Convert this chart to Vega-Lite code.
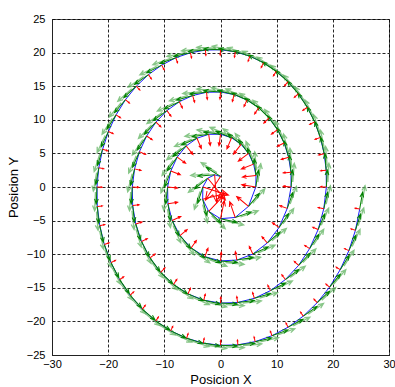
{
  "$schema": "https://vega.github.io/schema/vega-lite/v6.json",
  "width": 337,
  "height": 336,
  "autosize": {"type": "none"},
  "padding": {"left": 52, "top": 19, "right": 6, "bottom": 32},
  "background": "white",
  "config": {
    "view": {"stroke": "#555555", "strokeWidth": 1},
    "font": "Liberation Sans",
    "axis": {
      "labelFont": "Liberation Sans",
      "labelFontSize": 11,
      "labelColor": "#000000",
      "titleFont": "Liberation Sans",
      "titleFontSize": 13,
      "titleFontWeight": "normal",
      "titleColor": "#000000",
      "grid": true,
      "gridColor": "#000000",
      "gridDash": [3, 2],
      "gridOpacity": 0.85,
      "gridWidth": 1,
      "ticks": false,
      "domainColor": "#222222",
      "labelFlush": false,
      "labelOverlap": false
    }
  },
  "data": {
    "values": [
      {"a": 90, "x": 0, "y": 1.571, "phi": 147.5, "acc": 5},
      {"a": 120, "x": -1.047, "y": 1.814, "phi": 184.5, "acc": 5},
      {"a": 150, "x": -2.267, "y": 1.309, "phi": 219.1, "acc": 5},
      {"a": 180, "x": -3.142, "y": 0, "phi": 252.3, "acc": 4.82},
      {"a": 210, "x": -3.174, "y": -1.833, "phi": 284.7, "acc": 4.17},
      {"a": 240, "x": -2.094, "y": -3.628, "phi": 316.6, "acc": 3.68},
      {"a": 270, "x": 0, "y": -4.712, "phi": 348.0, "acc": 3.3},
      {"a": 300, "x": 2.618, "y": -4.534, "phi": 19.2, "acc": 3.0},
      {"a": 330, "x": 4.988, "y": -2.88, "phi": 50.2, "acc": 2.75},
      {"a": 360, "x": 6.283, "y": 0, "phi": 81.0, "acc": 2.55},
      {"a": 375, "x": 6.322, "y": 1.694, "phi": 96.3, "acc": 2.45},
      {"a": 390, "x": 5.895, "y": 3.403, "phi": 111.6, "acc": 2.37},
      {"a": 405, "x": 4.998, "y": 4.998, "phi": 126.9, "acc": 2.29},
      {"a": 420, "x": 3.665, "y": 6.348, "phi": 142.2, "acc": 2.22},
      {"a": 435, "x": 1.965, "y": 7.333, "phi": 157.5, "acc": 2.15},
      {"a": 450, "x": 0, "y": 7.854, "phi": 172.7, "acc": 2.09},
      {"a": 465, "x": -2.1, "y": 7.839, "phi": 188.0, "acc": 2.03},
      {"a": 480, "x": -4.189, "y": 7.255, "phi": 203.2, "acc": 1.98},
      {"a": 495, "x": -6.109, "y": 6.109, "phi": 218.4, "acc": 1.93},
      {"a": 510, "x": -7.708, "y": 4.451, "phi": 233.6, "acc": 1.88},
      {"a": 525, "x": -8.851, "y": 2.371, "phi": 248.8, "acc": 1.83},
      {"a": 540, "x": -9.425, "y": 0, "phi": 263.9, "acc": 1.79},
      {"a": 555, "x": -9.356, "y": -2.507, "phi": 279.1, "acc": 1.75},
      {"a": 570, "x": -8.615, "y": -4.974, "phi": 294.3, "acc": 1.71},
      {"a": 585, "x": -7.22, "y": -7.22, "phi": 309.4, "acc": 1.67},
      {"a": 600, "x": -5.236, "y": -9.069, "phi": 324.5, "acc": 1.64},
      {"a": 615, "x": -2.778, "y": -10.368, "phi": 339.7, "acc": 1.6},
      {"a": 630, "x": 0, "y": -10.996, "phi": 354.8, "acc": 1.57},
      {"a": 645, "x": 2.913, "y": -10.873, "phi": 9.9, "acc": 1.54},
      {"a": 660, "x": 5.76, "y": -9.976, "phi": 25.0, "acc": 1.51},
      {"a": 675, "x": 8.33, "y": -8.33, "phi": 40.2, "acc": 1.48},
      {"a": 690, "x": 10.429, "y": -6.021, "phi": 55.3, "acc": 1.46},
      {"a": 705, "x": 11.885, "y": -3.184, "phi": 70.4, "acc": 1.43},
      {"a": 720, "x": 12.566, "y": 0, "phi": 85.4, "acc": 1.41},
      {"a": 730, "x": 12.547, "y": 2.212, "phi": 95.5, "acc": 1.39},
      {"a": 740, "x": 12.137, "y": 4.417, "phi": 105.6, "acc": 1.38},
      {"a": 750, "x": 11.336, "y": 6.545, "phi": 115.6, "acc": 1.36},
      {"a": 760, "x": 10.161, "y": 8.526, "phi": 125.7, "acc": 1.35},
      {"a": 770, "x": 8.639, "y": 10.294, "phi": 135.7, "acc": 1.33},
      {"a": 780, "x": 6.807, "y": 11.789, "phi": 145.8, "acc": 1.32},
      {"a": 790, "x": 4.716, "y": 12.957, "phi": 155.8, "acc": 1.31},
      {"a": 800, "x": 2.424, "y": 13.75, "phi": 165.9, "acc": 1.29},
      {"a": 810, "x": 0, "y": 14.137, "phi": 175.9, "acc": 1.28},
      {"a": 820, "x": -2.485, "y": 14.094, "phi": 186.0, "acc": 1.27},
      {"a": 830, "x": -4.954, "y": 13.613, "phi": 196.0, "acc": 1.26},
      {"a": 840, "x": -7.33, "y": 12.696, "phi": 206.1, "acc": 1.25},
      {"a": 850, "x": -9.536, "y": 11.364, "phi": 216.1, "acc": 1.23},
      {"a": 860, "x": -11.498, "y": 9.648, "phi": 226.2, "acc": 1.22},
      {"a": 870, "x": -13.15, "y": 7.592, "phi": 236.2, "acc": 1.21},
      {"a": 880, "x": -14.433, "y": 5.253, "phi": 246.3, "acc": 1.2},
      {"a": 890, "x": -15.297, "y": 2.697, "phi": 256.3, "acc": 1.19},
      {"a": 900, "x": -15.708, "y": 0, "phi": 266.4, "acc": 1.18},
      {"a": 910, "x": -15.641, "y": -2.757, "phi": 276.4, "acc": 1.17},
      {"a": 920, "x": -15.089, "y": -5.492, "phi": 286.4, "acc": 1.16},
      {"a": 930, "x": -14.057, "y": -8.116, "phi": 296.5, "acc": 1.15},
      {"a": 940, "x": -12.567, "y": -10.546, "phi": 306.5, "acc": 1.14},
      {"a": 950, "x": -10.658, "y": -12.701, "phi": 316.5, "acc": 1.13},
      {"a": 960, "x": -8.378, "y": -14.51, "phi": 326.6, "acc": 1.12},
      {"a": 970, "x": -5.79, "y": -15.909, "phi": 336.6, "acc": 1.11},
      {"a": 980, "x": -2.969, "y": -16.844, "phi": 346.7, "acc": 1.11},
      {"a": 990, "x": 0, "y": -17.279, "phi": 356.7, "acc": 1.1},
      {"a": 1000, "x": 3.03, "y": -17.188, "phi": 6.7, "acc": 1.09},
      {"a": 1010, "x": 6.029, "y": -16.565, "phi": 16.8, "acc": 1.08},
      {"a": 1020, "x": 8.901, "y": -15.417, "phi": 26.8, "acc": 1.07},
      {"a": 1030, "x": 11.556, "y": -13.77, "phi": 36.8, "acc": 1.07},
      {"a": 1040, "x": 13.904, "y": -11.668, "phi": 46.8, "acc": 1.06},
      {"a": 1050, "x": 15.87, "y": -9.163, "phi": 56.9, "acc": 1.05},
      {"a": 1060, "x": 17.385, "y": -6.327, "phi": 66.9, "acc": 1.04},
      {"a": 1070, "x": 18.391, "y": -3.242, "phi": 76.9, "acc": 1.04},
      {"a": 1080, "x": 18.85, "y": 0, "phi": 87.0, "acc": 1.03},
      {"a": 1087.5, "x": 18.818, "y": 2.478, "phi": 94.5, "acc": 1.02},
      {"a": 1095, "x": 18.46, "y": 4.946, "phi": 102.0, "acc": 1.02},
      {"a": 1102.5, "x": 17.778, "y": 7.364, "phi": 109.5, "acc": 1.01},
      {"a": 1110, "x": 16.778, "y": 9.687, "phi": 117.0, "acc": 1.01},
      {"a": 1117.5, "x": 15.474, "y": 11.873, "phi": 124.6, "acc": 1.0},
      {"a": 1125, "x": 13.884, "y": 13.884, "phi": 132.1, "acc": 1.0},
      {"a": 1132.5, "x": 12.033, "y": 15.681, "phi": 139.6, "acc": 0.99},
      {"a": 1140, "x": 9.948, "y": 17.231, "phi": 147.1, "acc": 0.99},
      {"a": 1147.5, "x": 7.664, "y": 18.503, "phi": 154.6, "acc": 0.98},
      {"a": 1155, "x": 5.217, "y": 19.472, "phi": 162.2, "acc": 0.98},
      {"a": 1162.5, "x": 2.648, "y": 20.116, "phi": 169.7, "acc": 0.97},
      {"a": 1170, "x": 0, "y": 20.42, "phi": 177.2, "acc": 0.97},
      {"a": 1177.5, "x": -2.683, "y": 20.375, "phi": 184.7, "acc": 0.97},
      {"a": 1185, "x": -5.353, "y": 19.978, "phi": 192.2, "acc": 0.96},
      {"a": 1192.5, "x": -7.965, "y": 19.229, "phi": 199.7, "acc": 0.96},
      {"a": 1200, "x": -10.472, "y": 18.138, "phi": 207.3, "acc": 0.95},
      {"a": 1207.5, "x": -12.83, "y": 16.72, "phi": 214.8, "acc": 0.95},
      {"a": 1215, "x": -14.995, "y": 14.995, "phi": 222.3, "acc": 0.94},
      {"a": 1222.5, "x": -16.927, "y": 12.989, "phi": 229.8, "acc": 0.94},
      {"a": 1230, "x": -18.592, "y": 10.734, "phi": 237.3, "acc": 0.94},
      {"a": 1237.5, "x": -19.954, "y": 8.265, "phi": 244.8, "acc": 0.93},
      {"a": 1245, "x": -20.989, "y": 5.624, "phi": 252.4, "acc": 0.93},
      {"a": 1252.5, "x": -21.673, "y": 2.853, "phi": 259.9, "acc": 0.92},
      {"a": 1260, "x": -21.991, "y": 0, "phi": 267.4, "acc": 0.92},
      {"a": 1267.5, "x": -21.933, "y": -2.888, "phi": 274.9, "acc": 0.92},
      {"a": 1275, "x": -21.495, "y": -5.76, "phi": 282.4, "acc": 0.91},
      {"a": 1282.5, "x": -20.68, "y": -8.566, "phi": 289.9, "acc": 0.91},
      {"a": 1290, "x": -19.498, "y": -11.257, "phi": 297.5, "acc": 0.91},
      {"a": 1297.5, "x": -17.966, "y": -13.786, "phi": 305.0, "acc": 0.9},
      {"a": 1305, "x": -16.106, "y": -16.106, "phi": 312.5, "acc": 0.9},
      {"a": 1312.5, "x": -13.945, "y": -18.174, "phi": 320.0, "acc": 0.89},
      {"a": 1320, "x": -11.519, "y": -19.951, "phi": 327.5, "acc": 0.89},
      {"a": 1327.5, "x": -8.866, "y": -21.406, "phi": 335.0, "acc": 0.89},
      {"a": 1335, "x": -6.031, "y": -22.506, "phi": 342.5, "acc": 0.88},
      {"a": 1342.5, "x": -3.058, "y": -23.231, "phi": 350.1, "acc": 0.88},
      {"a": 1350, "x": 0, "y": -23.562, "phi": 357.6, "acc": 0.88},
      {"a": 1357.5, "x": 3.093, "y": -23.49, "phi": 5.1, "acc": 0.87},
      {"a": 1365, "x": 6.166, "y": -23.012, "phi": 12.6, "acc": 0.87},
      {"a": 1372.5, "x": 9.167, "y": -22.131, "phi": 20.1, "acc": 0.87},
      {"a": 1380, "x": 12.043, "y": -20.858, "phi": 27.6, "acc": 0.86},
      {"a": 1387.5, "x": 14.742, "y": -19.212, "phi": 35.1, "acc": 0.86},
      {"a": 1395, "x": 17.216, "y": -17.216, "phi": 42.6, "acc": 0.86},
      {"a": 1402.5, "x": 19.42, "y": -14.901, "phi": 50.2, "acc": 0.85},
      {"a": 1410, "x": 21.312, "y": -12.305, "phi": 57.7, "acc": 0.85},
      {"a": 1417.5, "x": 22.857, "y": -9.468, "phi": 65.2, "acc": 0.85},
      {"a": 1425, "x": 24.024, "y": -6.437, "phi": 72.7, "acc": 0.84},
      {"a": 1432.5, "x": 24.788, "y": -3.264, "phi": 80.2, "acc": 0.84}
    ]
  },
  "encoding": {
    "x": {
      "field": "x", "type": "quantitative",
      "scale": {"domain": [-30, 30], "nice": false, "zero": false},
      "axis": {"title": "Posicion X", "values": [-30, -20, -10, 0, 10, 20, 30], "labelPadding": 3, "titlePadding": 4}
    },
    "y": {
      "field": "y", "type": "quantitative",
      "scale": {"domain": [-25, 25], "nice": false, "zero": false},
      "axis": {"title": "Posicion Y", "values": [-25, -20, -15, -10, -5, 0, 5, 10, 15, 20, 25], "labelPadding": 7, "titlePadding": 6}
    }
  },
  "layer": [
    {
      "mark": {"type": "line", "color": "#0000ff", "strokeWidth": 0.9},
      "encoding": {"order": {"field": "a", "type": "quantitative"}}
    },
    {
      "mark": {"type": "point", "shape": "M0.6,0.15L2.8,0.15M2.2,-0.12L2.8,0.15L2.2,0.42", "filled": false, "color": "#5fb35f", "opacity": 0.75, "size": 289, "strokeWidth": 1.3},
      "encoding": {"angle": {"field": "phi", "type": "quantitative", "scale": {"domain": [0, 360], "range": [0, -360]}}}
    },
    {
      "mark": {"type": "point", "shape": "M0,0L2,0M1.4,-0.22L2,0L1.4,0.22", "filled": false, "color": "#008000", "opacity": 1, "size": 289, "strokeWidth": 1},
      "encoding": {"angle": {"field": "phi", "type": "quantitative", "scale": {"domain": [0, 360], "range": [0, -360]}}}
    },
    {
      "mark": {"type": "point", "shape": "M0,0L0,-2M-0.25,-1.4L0,-2L0.25,-1.4", "filled": false, "color": "#ff0000", "opacity": 1, "strokeWidth": 1},
      "encoding": {
        "angle": {"field": "phi", "type": "quantitative", "scale": {"domain": [0, 360], "range": [0, -360]}},
        "size": {"field": "acc", "type": "quantitative", "scale": {"type": "pow", "exponent": 2, "domain": [0, 10], "range": [0, 3136]}, "legend": null}
      }
    }
  ]
}
